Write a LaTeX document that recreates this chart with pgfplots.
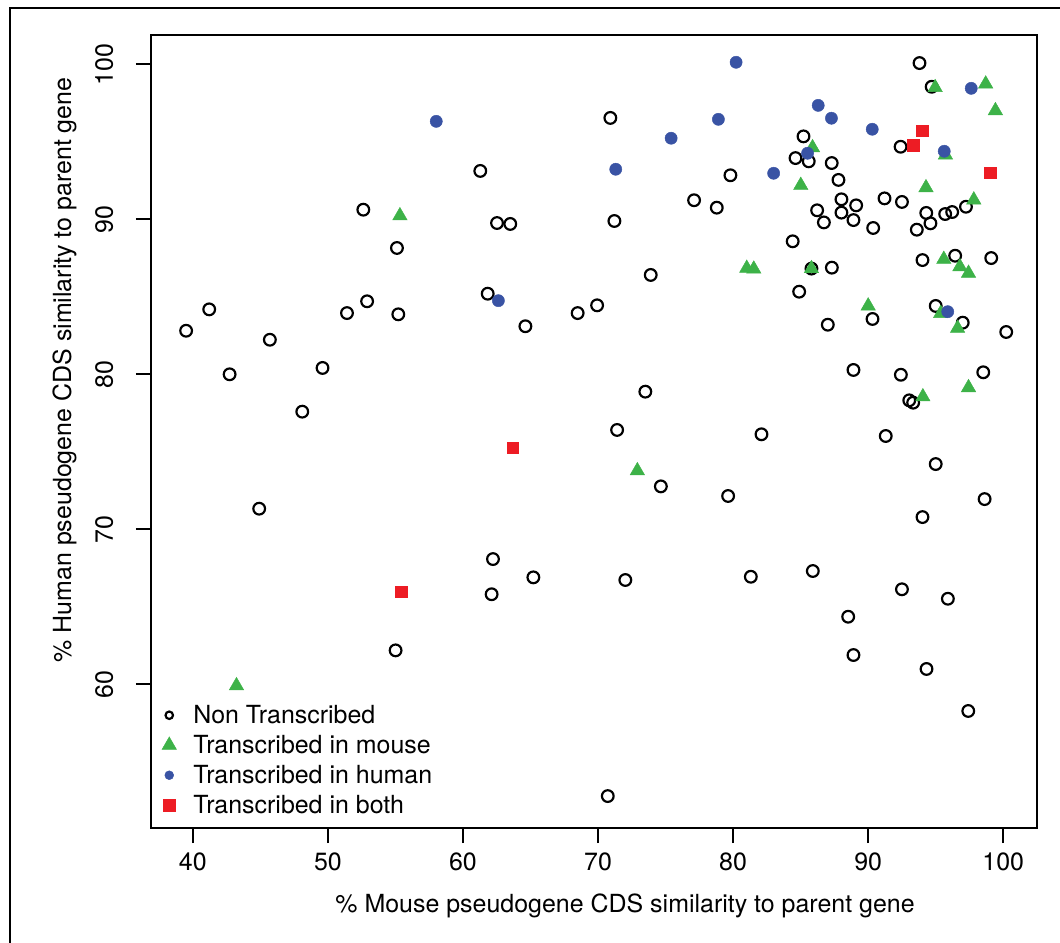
\documentclass[border=0pt]{standalone}
\usepackage{fontspec}
\setmainfont{TeX Gyre Heros}
\usepackage{pgfplots}
\pgfplotsset{compat=1.18}
\definecolor{mgreen}{RGB}{61,178,72}
\definecolor{hblue}{RGB}{57,83,164}
\definecolor{bred}{RGB}{237,28,36}

\begin{document}
\begin{tikzpicture}
\begin{axis}[
    at={(4.53cm,-24.84cm)}, anchor=south west,
    scale only axis, width=26.58cm, height=23.79cm,
    xmin=36.9, xmax=102.5, ymin=50.73, ymax=101.89,
    xtick={40,50,...,100}, ytick={60,70,...,100},
    tick pos=left, tick align=outside, major tick length=0.45cm,
    axis line style={line width=0.07cm},
    tick style={line width=0.07cm, black},
    font=\fontsize{21.3}{25}\selectfont,
    /pgf/number format/assume math mode=true,
    xticklabel style={anchor=center, yshift=-0.57cm},
    yticklabel style={anchor=center, xshift=-0.95cm, rotate=90},
    xlabel={\% Mouse pseudogene CDS similarity to parent gene},
    ylabel={\% Human pseudogene CDS similarity to parent gene},
    xlabel style={at={(axis description cs:0.535,-0.098)}, anchor=center},
    ylabel style={at={(axis description cs:-0.0975,0.5776)}, anchor=center},
    clip=false,
    legend cell align=left,
    legend style={draw=none, fill=none, inner sep=0pt, row sep=0pt, column sep=0.36cm,
        nodes={inner sep=0pt},
        at={(axis description cs:0.0068,0.1614)}, anchor=north west},
    legend image code/.code={
        \path[draw=none, fill=none] (-0.36cm,-0.45cm) rectangle (0.36cm,0.45cm);
        \draw[#1] plot coordinates {(0cm,0cm)};},
]

% not transcribed
\addplot[only marks, mark=o, mark size=5pt, mark options={line width=0.065cm, black},
    legend image post style={mark size=3.2pt}]
coordinates {
(61.28,93.12)(52.62,90.62)(62.52,89.76)(63.50,89.70)(55.11,88.15)(61.83,85.20)
(68.49,83.95)(41.21,84.19)(39.50,82.81)(52.90,84.71)(51.41,83.95)(55.21,83.87)
(64.62,83.10)(45.70,82.23)(49.60,80.41)(42.72,80.00)(48.10,77.59)(44.91,71.33)
(62.22,68.08)(65.21,66.90)(62.12,65.81)(55.01,62.19)(93.80,100.08)(94.70,98.55)
(70.91,96.54)(92.40,94.68)(85.21,95.35)(84.62,93.95)(85.60,93.74)(87.30,93.63)
(79.80,92.84)(87.80,92.54)(77.11,91.23)(78.79,90.75)(91.21,91.35)(92.50,91.12)
(88.02,91.29)(89.11,90.90)(86.22,90.58)(88.02,90.43)(94.30,90.41)(95.70,90.34)
(96.22,90.47)(97.24,90.81)(86.72,89.80)(88.91,89.95)(94.61,89.74)(90.37,89.44)
(93.60,89.33)(71.21,89.89)(84.41,88.58)(85.80,86.82)(87.31,86.88)(94.02,87.37)
(96.44,87.65)(99.11,87.50)(73.90,86.41)(69.93,84.45)(84.89,85.33)(95.00,84.41)
(90.32,83.57)(97.00,83.33)(87.01,83.20)(100.22,82.73)(88.91,80.28)(92.42,79.97)
(98.52,80.13)(73.50,78.88)(93.04,78.32)(93.33,78.17)(71.41,76.41)(82.10,76.13)
(91.30,76.02)(95.00,74.21)(74.65,72.77)(79.63,72.15)(98.62,71.95)(94.02,70.79)
(72.02,66.73)(81.31,66.94)(85.90,67.31)(92.50,66.13)(95.90,65.52)(88.52,64.36)
(88.91,61.89)(94.32,60.99)(97.41,58.28)(70.72,52.79)
};
\addlegendentry{Non Transcribed}

% transcribed in mouse
\addplot[only marks, mark=triangle*, mark size=7.1pt, color=mgreen]
coordinates {
(55.33,90.23)(43.23,59.91)(94.96,98.50)(98.70,98.73)(99.42,97.01)(95.72,94.15)
(85.88,94.62)(85.01,92.19)(94.28,92.04)(97.82,91.25)(81.01,86.84)(81.53,86.79)
(85.80,86.82)(95.60,87.42)(96.79,86.94)(97.43,86.52)(90.00,84.41)(95.37,83.93)
(96.62,82.97)(97.43,79.14)(94.05,78.55)(72.91,73.78)
};
\addlegendentry{Transcribed in mouse}

% transcribed in human
\addplot[only marks, mark=*, mark size=5.2pt, color=hblue,
    legend image post style={mark size=3.8pt}]
coordinates {
(58.02,96.32)(62.62,84.75)(80.22,100.13)(97.63,98.45)(78.91,96.45)(86.30,97.35)
(87.28,96.52)(75.41,95.23)(90.30,95.81)(95.63,94.39)(85.51,94.26)(71.31,93.23)
(83.00,92.97)(95.89,84.04)
};
\addlegendentry{Transcribed in human}

% transcribed in both
\addplot[only marks, mark=square*, mark size=4.9pt, color=bred]
coordinates {
(63.70,75.26)(55.41,65.97)(94.00,95.72)(93.33,94.79)(99.04,92.99)
};
\addlegendentry{Transcribed in both}

\end{axis}
\draw[line width=0.07cm] (0.3cm,-29cm) -- (0.3cm,-0.24cm) -- (32cm,-0.24cm);
\pgfresetboundingbox
\path[use as bounding box] (0cm,0cm) rectangle (31.8cm,-28.29cm);
\end{tikzpicture}
\end{document}
